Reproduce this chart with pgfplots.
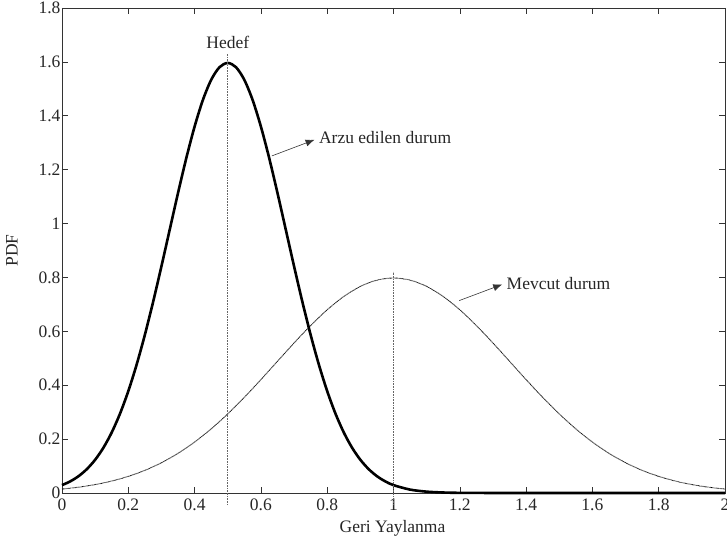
\documentclass[border=0pt]{standalone}
\usepackage{pgfplots}
\pgfplotsset{compat=1.18}
\usepackage{pgfplotstable}
\usepackage{fontspec}
\setmainfont{Liberation Serif}
\usetikzlibrary{arrows.meta}

% desired response: narrow peak at 0.5
\pgfplotstableread{
x y
0     0.0292
0.025 0.0432
0.05  0.0625
0.075 0.0887
0.1   0.1234
0.125 0.1682
0.15  0.2248
0.175 0.2945
0.2   0.3781
0.225 0.4759
0.25  0.5871
0.275 0.7100
0.3   0.8416
0.325 0.9777
0.35  1.1135
0.375 1.2430
0.4   1.3600
0.425 1.4586
0.45  1.5334
0.475 1.5801
0.5   1.5960
0.525 1.5801
0.55  1.5334
0.575 1.4586
0.6   1.3600
0.625 1.2430
0.65  1.1135
0.675 0.9777
0.7   0.8416
0.725 0.7100
0.75  0.5871
0.775 0.4759
0.8   0.3781
0.825 0.2945
0.85  0.2248
0.875 0.1682
0.9   0.1234
0.925 0.0887
0.95  0.0625
0.975 0.0432
1.0   0.0292
1.05  0.0126
1.1   0.0050
1.15  0.0018
1.2   0.0006
1.3   0.0001
1.4   0
1.6   0
1.8   0
2.0   0
}\desired

% current response: wide peak at 1.0
\pgfplotstableread{
x y
0     0.0146
0.05  0.0216
0.1   0.0313
0.15  0.0444
0.2   0.0617
0.25  0.0841
0.3   0.1124
0.35  0.1472
0.4   0.1891
0.45  0.2380
0.5   0.2936
0.55  0.3550
0.6   0.4208
0.65  0.4889
0.7   0.5567
0.75  0.6215
0.8   0.6800
0.85  0.7293
0.9   0.7667
0.95  0.7901
1.0   0.7980
1.05  0.7901
1.1   0.7667
1.15  0.7293
1.2   0.6800
1.25  0.6215
1.3   0.5567
1.35  0.4889
1.4   0.4208
1.45  0.3550
1.5   0.2936
1.55  0.2380
1.6   0.1891
1.65  0.1472
1.7   0.1124
1.75  0.0841
1.8   0.0617
1.85  0.0444
1.9   0.0313
1.95  0.0216
2.0   0.0146
}\current

\newcommand{\lblfont}{\fontsize{17.5bp}{21bp}\selectfont}

\begin{document}
\begin{tikzpicture}
\begin{axis}[
  scale only axis,
  width=663bp, height=485bp,
  xmin=0, xmax=2, ymin=0, ymax=1.8,
  xtick={0,0.2,...,2.01},
  ytick={0,0.2,...,1.81},
  tick align=inside,
  major tick length=6bp,
  axis line style={black!80, line width=0.6bp},
  every tick/.style={black!80, line width=0.6bp},
  /pgf/number format/assume math mode=true,
  /pgf/number format/fixed,
  tick label style={font=\lblfont, text=black!85},
  xticklabel style={yshift=-2bp},
  yticklabel style={xshift=2bp},
  label style={font=\lblfont, text=black!85},
  xlabel={Geri Yaylanma},
  ylabel={PDF},
  xlabel style={at={(axis description cs:0.4985,-0.0722)}, anchor=center},
  ylabel style={at={(axis description cs:-0.0754,0.5)}, anchor=center, rotate=0},
  clip=false,
]
\addplot[black, line width=2.6bp, smooth] table[x=x,y=y]{\desired};
\addplot[black, line width=0.9bp, dash pattern=on 0.6bp off 0.6bp, smooth] table[x=x,y=y]{\current};

% peak markers
\addplot[black!60, line width=0.6bp, densely dotted] coordinates {(0.5,-0.043) (0.5,1.632)};
\addplot[black!60, line width=0.6bp, densely dotted] coordinates {(1.0,-0.043) (1.0,0.822)};

% annotations
\node[font=\lblfont, text=black!85, anchor=base] at (axis cs:0.5,1.648) {Hedef};
\draw[black!80, line width=0.6bp, -{Latex[length=9bp,width=7bp]}] (axis cs:0.633,1.251) -- (axis cs:0.762,1.311);
\node[font=\lblfont, text=black!85, anchor=base west, inner sep=0pt] at (axis cs:0.775,1.297) {Arzu edilen durum};
\draw[black!80, line width=0.6bp, -{Latex[length=9bp,width=7bp]}] (axis cs:1.198,0.714) -- (axis cs:1.328,0.774);
\node[font=\lblfont, text=black!85, anchor=base west, inner sep=0pt] at (axis cs:1.341,0.755) {Mevcut durum};
\end{axis}
\pgfresetboundingbox
\path ([xshift=-62bp,yshift=-49bp]current axis.south west) rectangle ([xshift=2bp,yshift=8bp]current axis.north east);
\end{tikzpicture}
\end{document}
